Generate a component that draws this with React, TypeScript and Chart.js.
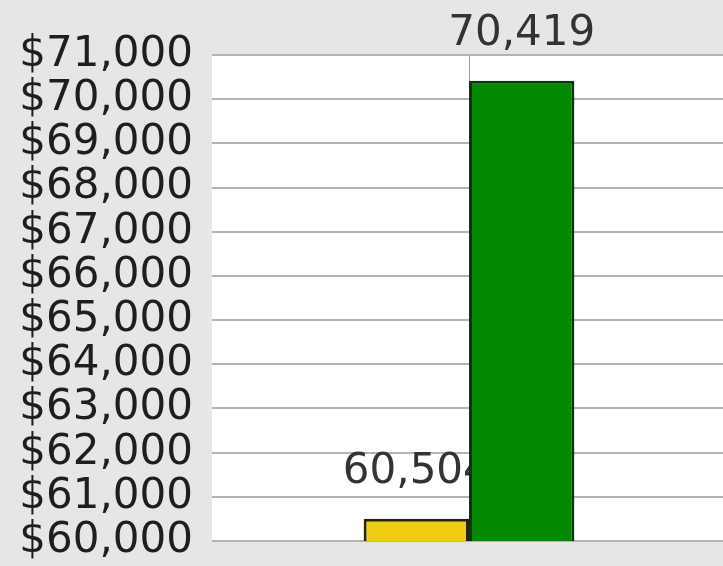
import React, { useEffect, useRef } from "react";
import { Chart, registerables } from "chart.js";

Chart.register(...registerables);

const categories = [""];
const seriesNames = ["Series A", "Series B"];
const seriesValues = [60504, 70419];
const yTickValues = [60000, 61000, 62000, 63000, 64000, 65000, 66000, 67000, 68000, 69000, 70000, 71000];

const FONT = "'DejaVu Sans', Verdana, sans-serif";

export default function App() {
  const ref = useRef<HTMLCanvasElement | null>(null);

  useEffect(() => {
    if (!ref.current) return;
    const bgPlugin = {
      id: "bg",
      beforeDraw(chart: any) {
        const { ctx, chartArea } = chart;
        ctx.save();
        ctx.fillStyle = "#e6e6e6";
        ctx.fillRect(0, 0, chart.width, chart.height);
        ctx.fillStyle = "#ffffff";
        ctx.fillRect(chartArea.left, chartArea.top, chartArea.right - chartArea.left, chartArea.bottom - chartArea.top);
        ctx.restore();
      },
    };
    const labelPlugin = {
      id: "vals",
      beforeDatasetsDraw(chart: any) {
        const { ctx } = chart;
        chart.data.datasets.forEach((ds: any, di: number) => {
          const meta = chart.getDatasetMeta(di);
          meta.data.forEach((el: any, i: number) => {
            const v = ds.data[i] as number;
            ctx.save();
            ctx.font = `42px ${FONT}`;
            ctx.fillStyle = "#333333";
            ctx.textAlign = "center";
            ctx.textBaseline = "alphabetic";
            ctx.fillText(v.toLocaleString("en-US"), el.x, el.y - 36);
            ctx.restore();
          });
        });
      },
    };
    const chart = new Chart(ref.current, {
      type: "bar",
      data: {
        labels: categories,
        datasets: [
          {
            label: seriesNames[0],
            data: [seriesValues[0]],
            backgroundColor: "#f2cc14",
            borderColor: "#2a2205",
            borderWidth: 3,
            borderSkipped: false,
            categoryPercentage: 0.41,
            barPercentage: 1,
          },
          {
            label: seriesNames[1],
            data: [seriesValues[1]],
            backgroundColor: "#038a03",
            borderColor: "#0b350b",
            borderWidth: 3,
            borderSkipped: false,
            categoryPercentage: 0.41,
            barPercentage: 1,
          },
        ],
      },
      options: {
        responsive: false,
        animation: false,
        layout: { padding: { top: 55, bottom: 25, left: 0, right: 0 } },
        plugins: { legend: { display: false }, tooltip: { enabled: false } },
        scales: {
          x: {
            grid: { display: true, offset: false, drawTicks: false, color: "#9a9a9a", lineWidth: 1 },
            border: { display: false },
            ticks: { display: false, padding: 0 },
            afterFit(scale: any) {
              scale.height = 0;
              scale.paddingTop = 0;
              scale.paddingBottom = 0;
            },
          },
          y: {
            min: yTickValues[0],
            max: yTickValues[yTickValues.length - 1],
            afterBuildTicks(scale: any) {
              scale.ticks = yTickValues.map((v) => ({ value: v }));
            },
            afterFit(scale: any) {
              scale.width = 212;
              scale.paddingTop = 0;
              scale.paddingBottom = 0;
            },
            grid: { color: "#b4b4b4", lineWidth: 2, drawTicks: false },
            border: { display: false },
            ticks: {
              autoSkip: false,
              padding: 19,
              color: "#1e1e1e",
              font: { family: FONT, size: 42 },
              callback: (v: any) => "$" + Number(v).toLocaleString("en-US"),
            },
          },
        },
      },
      plugins: [bgPlugin, labelPlugin],
    });
    return () => chart.destroy();
  }, []);

  return (
    <div style={{ position: "fixed", left: 0, top: 0, width: 723, height: 566, overflow: "hidden", background: "#e6e6e6" }}>
      <canvas ref={ref} width={726} height={566} style={{ display: "block" }} />
    </div>
  );
}
